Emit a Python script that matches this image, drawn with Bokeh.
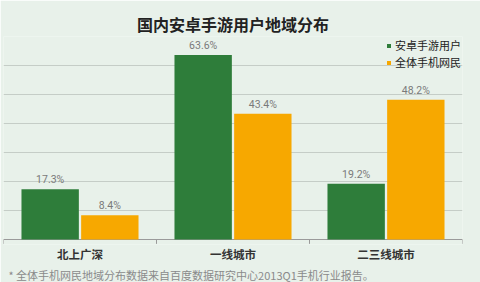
from bokeh.plotting import figure
from bokeh.models import (ColumnDataSource, Range1d, FixedTicker, Title, Legend, LegendItem)
from bokeh.embed import file_html
from bokeh.resources import INLINE

categories = ["北上广深", "一线城市", "二三线城市"]
android_users = [17.3, 63.6, 19.2]
all_mobile = [8.4, 43.4, 48.2]
series_names = ["安卓手游用户", "全体手机网民"]
title_text = "国内安卓手游用户地域分布"
footnote = "* 全体手机网民地域分布数据来自百度数据研究中心2013Q1手机行业报告。"

GREEN = "#2e7d3a"
ORANGE = "#f7a800"
BG = "#e8f1ea"
FONT = "Noto Sans CJK SC"

centers = [i + 0.5 for i in range(len(categories))]
src = ColumnDataSource(dict(
    xg=[c - 0.195 for c in centers], xo=[c + 0.195 for c in centers],
    g=android_users, o=all_mobile,
    gl=[f"{v}%" for v in android_users], ol=[f"{v}%" for v in all_mobile],
))

p = figure(width=480, height=282, output_backend="svg", toolbar_location=None,
           x_range=Range1d(0, 3), y_range=Range1d(-1.72, 70),
           min_border_left=3, min_border_right=18, min_border_top=36, min_border_bottom=38)
p.background_fill_color = BG
p.border_fill_color = BG
p.outline_line_color = None

p.title.text = title_text
p.title.align = "center"
p.title.text_font = FONT
p.title.text_font_size = "16px"
p.title.text_font_style = "bold"
p.title.text_color = "#222222"
p.title.standoff = 2

p.yaxis.visible = False
p.xgrid.visible = False
p.ygrid.ticker = FixedTicker(ticks=[10, 20, 30, 40, 50, 60, 70])
p.ygrid.grid_line_color = "#c5cdc7"
p.ygrid.grid_line_width = 1

# baseline and boundary ticks
p.segment(x0=[0], y0=[0], x1=[3], y1=[0], line_color="#9a9a9a", line_width=1)
p.segment(x0=[0, 1, 2, 3], y0=[0, 0, 0, 0], x1=[0, 1, 2, 3], y1=[-1.5, -1.5, -1.5, -1.5],
          line_color="#9a9a9a", line_width=1)

rg = p.vbar(x="xg", top="g", width=0.375, source=src, fill_color=GREEN, line_color=None)
ro = p.vbar(x="xo", top="o", width=0.375, source=src, fill_color=ORANGE, line_color=None)

p.text(x="xg", y="g", text="gl", source=src, text_align="center", text_baseline="bottom",
       y_offset=-3, text_font_size="10.5px", text_color="#7a7a7a", text_font=dict(value="Roboto"))
p.text(x="xo", y="o", text="ol", source=src, text_align="center", text_baseline="bottom",
       y_offset=-3, text_font_size="10.5px", text_color="#7a7a7a", text_font=dict(value="Roboto"))

p.xaxis.ticker = FixedTicker(ticks=centers)
p.xaxis.major_label_overrides = {c: lab for c, lab in zip(centers, categories)}
p.xaxis.axis_line_color = None
p.xaxis.major_tick_line_color = None
p.xaxis.minor_tick_line_color = None
p.xaxis.major_tick_out = 0
p.xaxis.major_tick_in = 0
p.xaxis.minor_tick_out = 0
p.xaxis.major_label_standoff = 1
p.xaxis.major_label_text_font = FONT
p.xaxis.major_label_text_font_size = "11.5px"
p.xaxis.major_label_text_font_style = "bold"
p.xaxis.major_label_text_color = "#333333"

fn = Title(text=footnote, align="left", text_font=FONT, text_font_size="11px",
           text_font_style="normal", text_color="#8a8a8a", offset=5, standoff=0)
p.add_layout(fn, "below")

legend = Legend(items=[LegendItem(label=series_names[0], renderers=[rg]),
                       LegendItem(label=series_names[1], renderers=[ro])],
                location="top_right", background_fill_alpha=0, border_line_color=None,
                glyph_width=5, glyph_height=5, label_standoff=4, label_height=14,
                spacing=1, padding=2, margin=1,
                label_text_font=FONT, label_text_font_size="11px", label_text_color="#222222")
p.add_layout(legend)

open("out.html", "w").write(file_html(p, INLINE))
